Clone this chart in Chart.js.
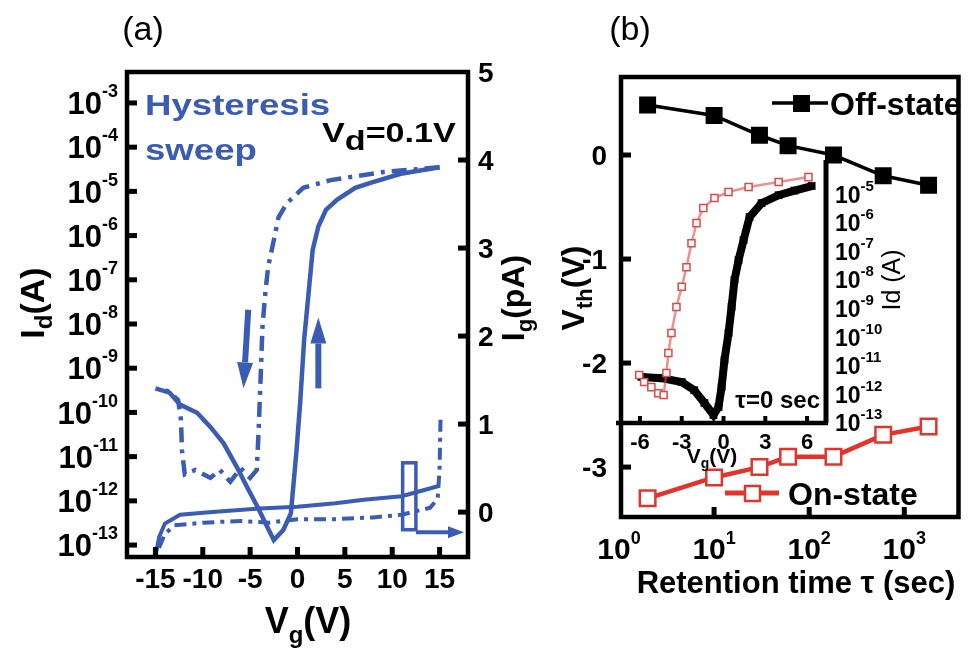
<!DOCTYPE html>
<html>
<head>
<meta charset="utf-8">
<script src="https://cdn.jsdelivr.net/npm/chart.js@4.4.1/dist/chart.umd.min.js"></script>
<style>
html, body { margin: 0; padding: 0; background: #fff; }
#wrap { position: relative; width: 972px; height: 648px; }
canvas { position: absolute; left: 0; top: 0; }
</style>
</head>
<body>
<div id="wrap">
  <canvas id="chartA" width="972" height="648"></canvas>
  <canvas id="chartB" width="972" height="648"></canvas>
  <canvas id="chartC" width="972" height="648"></canvas>
</div>
<script>
// ---------- panel (a): hysteresis sweep ----------
// forward sweep (solid), Id in A
const vgFwd = [-15, -13.5, -12.4, -10.6, -9.2, -7.8, -6.4, -5.3, -4.2, -3.2, -2.5, -1.5, -0.7, -0.1, 0.3, 0.7, 1.1, 1.6, 2.2, 3.0, 4.2, 6.1, 7.7, 10.9, 15];
const idFwd = [3.5e-10, 2.8e-10, 1.5e-10, 9.8e-11, 4.7e-11, 2.0e-11, 5.8e-12, 2.0e-12, 7.2e-13, 2.6e-13, 1.3e-13, 2.2e-13, 5.2e-13, 1.4e-11, 1.9e-10, 4.4e-9, 3.5e-8, 4.7e-7, 1.6e-6, 3.8e-6, 6.5e-6, 1.2e-5, 1.55e-5, 2.5e-5, 3.5e-5];
// reverse sweep (dash-dot)
const vgRev = [15, 9.1, 3.5, 0.6, -1.1, -2.0, -2.5, -3.1, -3.4, -3.7, -3.9, -4.1, -4.3, -5.0, -6.0, -7.1, -8.2, -9.2, -10.8, -11.9, -12.2, -12.3, -12.6, -13.5, -14.5];
const idRev = [3.5e-5, 2.75e-5, 1.8e-5, 1.2e-5, 5.5e-6, 2.6e-6, 7.9e-7, 1.95e-7, 5.0e-8, 8.5e-9, 5.4e-10, 4.0e-11, 5.0e-12, 3.3e-12, 5.5e-12, 2.7e-12, 5.0e-12, 3.3e-12, 5.0e-12, 4.0e-12, 1.4e-11, 6.8e-11, 1.9e-10, 2.9e-10, 3.5e-10];
// gate current Ig in pA (right axis)
const vgIgFwd = [-15, -14.6, -14, -12.4, -9, -4, 0, 4, 7, 11, 13, 15];
const igFwd = [-0.5, -0.28, -0.13, -0.03, 0.0, 0.04, 0.06, 0.1, 0.14, 0.18, 0.24, 0.3];
const vgIgRev = [15.1, 15, 14.8, 14, 11, 8, 4, 0, -3, -6, -10, -13, -14, -14.8];
const igRev = [1.05, 0.5, 0.15, 0.05, -0.03, -0.06, -0.08, -0.08, -0.12, -0.1, -0.12, -0.15, -0.25, -0.45];
// sweep direction arrows and the Ig marker (data units)
const arrowRev = { x: [-5.2, -5.7], y: [2.1e-8, 3.5e-10] };
const arrowFwd = { x: [2.2, 2.2], y: [3.5e-10, 1.4e-8] };
const igBox = { x: [11.1, 12.5], y: [-0.2, 0.56] };
const igPointer = { x: [12.5, 18], y: [-0.23, -0.23] };
// ticks
const idTickExp = [-3, -4, -5, -6, -7, -8, -9, -10, -11, -12, -13];
const igTicks = [0, 1, 2, 3, 4, 5];
const vgTicks = [-15, -10, -5, 0, 5, 10, 15];

// ---------- panel (b): retention ----------
const tau = [2, 10, 30, 60, 180, 600, 1800];
const vthOff = [0.48, 0.38, 0.19, 0.09, 0.0, -0.2, -0.29];
const vthOn = [-3.30, -3.10, -3.0, -2.9, -2.9, -2.69, -2.61];
const vthTicks = [0, -1, -2, -3];
const tauTickExp = [0, 1, 2, 3];

// inset: transfer curves at tau = 0 sec
const insetVgOff = [-5.9, -4.46, -3.0, -2.1, -1.37, -0.72, -0.36, -0.14, 0.07, 0.36, 0.58, 0.79, 1.08, 1.44, 1.87, 2.73, 3.96, 5.1, 6.33];
const insetIdOff = [4.1e-12, 3.7e-12, 2.7e-12, 1.4e-12, 5.0e-13, 1.9e-13, 3.6e-13, 1.8e-12, 1.6e-11, 1.4e-10, 1.15e-9, 1.0e-8, 5.0e-8, 2.5e-7, 1.6e-6, 4.9e-6, 9.3e-6, 1.35e-5, 1.95e-5];
const insetVgOn = [-6.05, -5.7, -5.18, -4.68, -4.3, -4.1, -3.96, -3.74, -3.38, -3.0, -2.66, -2.3, -1.94, -1.45, -0.65, 0.36, 1.8, 3.96, 6.1];
const insetIdOn = [4.8e-12, 2.7e-12, 1.8e-12, 1.1e-12, 9.5e-13, 5.6e-12, 2.8e-11, 1.4e-10, 1.15e-9, 5.8e-9, 2.8e-8, 1.95e-7, 9.8e-7, 3.3e-6, 7.4e-6, 1.2e-5, 1.8e-5, 2.7e-5, 4.0e-5];
const insetVgTicks = [-6, -3, 0, 3, 6];
const insetIdTickExp = [-5, -6, -7, -8, -9, -10, -11, -12, -13];

// ---------- helpers ----------
const FAM = '"Liberation Sans", Arial, sans-serif';
const blue = '#3a5cb5';
const red = '#e3342c';
function font(size, bold) { return (bold ? 'bold ' : '') + size + 'px ' + FAM; }
function pts(xs, ys) { return xs.map((v, i) => ({ x: v, y: ys[i] })); }
const hidden = { ticks: { display: false }, grid: { display: false }, border: { display: false } };

// parts: [text, size, dy]
function rich(ctx, parts, x, y, align, bold, color, sx) {
  sx = sx || 1;
  let w = 0;
  const ws = parts.map(p => { ctx.font = font(p[1], bold); const m = ctx.measureText(p[0]).width; w += m; return m; });
  ctx.save();
  ctx.translate(x, y);
  ctx.scale(sx, 1);
  let cx = align === 'center' ? -w / 2 : align === 'right' ? -w : 0;
  ctx.fillStyle = color; ctx.textAlign = 'left'; ctx.textBaseline = 'alphabetic';
  parts.forEach((p, i) => { ctx.font = font(p[1], bold); ctx.fillText(p[0], cx, p[2] || 0); cx += ws[i]; });
  ctx.restore();
}
function richRot(ctx, parts, x, y, bold, color) {
  ctx.save(); ctx.translate(x, y); ctx.rotate(-Math.PI / 2);
  rich(ctx, parts, 0, 0, 'center', bold, color);
  ctx.restore();
}
function pow10(ctx, e, x, ymid, align, size, supSize, supDy) {
  rich(ctx, [['10', size, 0], [String(e), supSize, supDy]], x, ymid + size * 0.36, align, true, '#000');
}
function plain(ctx, s, x, y, size, bold, align, color) {
  ctx.font = font(size, bold); ctx.fillStyle = color || '#000';
  ctx.textAlign = align || 'left'; ctx.textBaseline = 'alphabetic';
  ctx.fillText(s, x, y);
}
function arrow(ctx, x0, y0, x1, y1, lw, headLen, headHalf) {
  const ang = Math.atan2(y1 - y0, x1 - x0);
  const bx = x1 - headLen * Math.cos(ang), by = y1 - headLen * Math.sin(ang);
  ctx.lineWidth = lw;
  ctx.beginPath(); ctx.moveTo(x0, y0); ctx.lineTo(bx, by); ctx.stroke();
  ctx.beginPath(); ctx.moveTo(x1, y1);
  ctx.lineTo(bx + headHalf * Math.sin(ang), by - headHalf * Math.cos(ang));
  ctx.lineTo(bx - headHalf * Math.sin(ang), by + headHalf * Math.cos(ang));
  ctx.closePath(); ctx.fill();
}
function line(ctx, x0, y0, x1, y1, lw, color) {
  ctx.strokeStyle = color || '#000'; ctx.lineWidth = lw;
  ctx.beginPath(); ctx.moveTo(x0, y0); ctx.lineTo(x1, y1); ctx.stroke();
}

// ---------- panel (a) ----------
const decoA = {
  id: 'decoA',
  afterDraw(chart) {
    const { ctx, chartArea: a } = chart;
    const sx = chart.scales.x, yl = chart.scales.yL, yr = chart.scales.yR;
    ctx.save();
    // arrows
    ctx.fillStyle = blue; ctx.strokeStyle = blue;
    arrow(ctx, sx.getPixelForValue(arrowRev.x[0]), yl.getPixelForValue(arrowRev.y[0]),
      sx.getPixelForValue(arrowRev.x[1]), yl.getPixelForValue(arrowRev.y[1]), 6, 26, 8);
    arrow(ctx, sx.getPixelForValue(arrowFwd.x[0]), yl.getPixelForValue(arrowFwd.y[0]),
      sx.getPixelForValue(arrowFwd.x[1]), yl.getPixelForValue(arrowFwd.y[1]), 6, 26, 8);
    // Ig marker box and pointer
    const bx0 = sx.getPixelForValue(igBox.x[0]), bx1 = sx.getPixelForValue(igBox.x[1]);
    const by0 = yr.getPixelForValue(igBox.y[1]), by1 = yr.getPixelForValue(igBox.y[0]);
    ctx.lineWidth = 3.5; ctx.strokeRect(bx0, by0, bx1 - bx0, by1 - by0);
    arrow(ctx, sx.getPixelForValue(igPointer.x[0]), yr.getPixelForValue(igPointer.y[0]),
      sx.getPixelForValue(igPointer.x[1]) - 4, yr.getPixelForValue(igPointer.y[1]), 4, 16, 6);
    // frame
    ctx.strokeStyle = '#000'; ctx.lineWidth = 4.5;
    ctx.strokeRect(a.left, a.top, a.right - a.left, a.bottom - a.top);
    // ticks + labels
    idTickExp.forEach(e => {
      const y = yl.getPixelForValue(Math.pow(10, e));
      line(ctx, a.left, y, a.left + 10, y, 5);
      pow10(ctx, e, 118, y, 'right', 31, 18, -17);
    });
    igTicks.forEach(v => {
      const y = yr.getPixelForValue(v);
      if (v < 5) line(ctx, a.right - 10, y, a.right, y, 5);
      plain(ctx, String(v), 478, y + 10, 28, true);
    });
    vgTicks.forEach(v => {
      const x = sx.getPixelForValue(v);
      line(ctx, x, a.bottom, x, a.bottom - 10, 5);
      plain(ctx, String(v), x, 588, 28, true, 'center');
    });
    // titles
    richRot(ctx, [['I', 34], ['d', 24, 8], ['(A)', 34]], 44, 303, true, '#000');
    richRot(ctx, [['I', 32], ['g', 22, 8], ['(pA)', 32]], 524, 298, true, '#000');
    rich(ctx, [['V', 36], ['g', 24, 10], ['(V)', 36]], 308, 633, 'center', true, '#000');
    rich(ctx, [['Hysteresis', 30]], 145, 115, 'left', true, blue, 1.22);
    rich(ctx, [['sweep', 30]], 145, 160, 'left', true, blue, 1.22);
    rich(ctx, [['V', 28], ['d', 28, 8], ['=0.1V', 28]], 322, 142, 'left', true, '#000', 1.22);
    plain(ctx, '(a)', 143, 40, 34, false, 'center');
    ctx.restore();
  }
};

new Chart(document.getElementById('chartA'), {
  type: 'scatter',
  data: {
    datasets: [
      { data: pts(vgFwd, idFwd), yAxisID: 'yL', showLine: true, borderColor: blue, borderWidth: 4.5, pointRadius: 0 },
      { data: pts(vgRev, idRev), yAxisID: 'yL', showLine: true, borderColor: blue, borderWidth: 4.5, borderDash: [15, 7, 4, 7], pointRadius: 0 },
      { data: pts(vgIgFwd, igFwd), yAxisID: 'yR', showLine: true, borderColor: blue, borderWidth: 4, pointRadius: 0 },
      { data: pts(vgIgRev, igRev), yAxisID: 'yR', showLine: true, borderColor: blue, borderWidth: 4, borderDash: [12, 6, 4, 6], pointRadius: 0 }
    ]
  },
  options: {
    responsive: false, animation: false, devicePixelRatio: 1, events: [],
    layout: { padding: { top: 72, left: 0, right: 0, bottom: 0 } },
    plugins: { legend: { display: false }, tooltip: { enabled: false } },
    scales: {
      x: { type: 'linear', position: 'bottom', min: -18, max: 18, ...hidden, afterFit: s => { s.height = 91; } },
      yL: { type: 'logarithmic', position: 'left', min: Math.pow(10, -13.27), max: Math.pow(10, -2.3), ...hidden, afterFit: s => { s.width = 127; } },
      yR: { type: 'linear', position: 'right', min: -0.51, max: 5, ...hidden, afterFit: s => { s.width = 504; } }
    }
  },
  plugins: [decoA]
});

// ---------- panel (b) ----------
const decoB = {
  id: 'decoB',
  afterDraw(chart) {
    const { ctx, chartArea: a } = chart;
    const sx = chart.scales.x, sy = chart.scales.y;
    ctx.save();
    ctx.strokeStyle = '#000'; ctx.lineWidth = 4.5;
    ctx.strokeRect(a.left, a.top, a.right - a.left, a.bottom - a.top);
    vthTicks.forEach(v => {
      const y = sy.getPixelForValue(v);
      line(ctx, a.left, y, a.left + 10, y, 5);
      plain(ctx, String(v), 607, y + 10, 28, true, 'right');
    });
    tauTickExp.forEach(e => {
      const x = sx.getPixelForValue(Math.pow(10, e));
      if (e > 0) line(ctx, x, a.bottom, x, a.bottom - 10, 5);
      pow10(ctx, e, x, 548, 'center', 30, 18, -15);
    });
    // legend
    line(ctx, 772, 103, 828, 103, 3.5, '#000');
    ctx.fillStyle = '#000'; ctx.fillRect(793, 95, 17, 17);
    plain(ctx, 'Off-state', 830, 115, 32, true);
    line(ctx, 725, 493, 779, 493, 5, red);
    ctx.fillStyle = '#fff'; ctx.fillRect(745, 486, 15, 15);
    ctx.strokeStyle = red; ctx.lineWidth = 2.5; ctx.strokeRect(745, 486, 15, 15);
    plain(ctx, 'On-state', 788, 505, 32, true);
    // titles
    richRot(ctx, [['V', 32], ['th', 22, 8], ['(V)', 32]], 584, 288, true, '#000');
    plain(ctx, 'Retention time \u03c4 (sec)', 796, 593, 31, true, 'center');
    plain(ctx, '(b)', 630, 40, 34, false, 'center');
    ctx.restore();
  }
};

new Chart(document.getElementById('chartB'), {
  type: 'scatter',
  data: {
    datasets: [
      { data: pts(tau, vthOff), showLine: true, borderColor: '#000', borderWidth: 3.5, pointStyle: 'rect', pointRadius: 12, pointBackgroundColor: '#000', pointBorderColor: '#000', pointBorderWidth: 0 },
      { data: pts(tau, vthOn), showLine: true, borderColor: red, borderWidth: 4.5, pointStyle: 'rect', pointRadius: 11, pointBackgroundColor: '#fff', pointBorderColor: red, pointBorderWidth: 2.5 }
    ]
  },
  options: {
    responsive: false, animation: false, devicePixelRatio: 1, events: [],
    layout: { padding: { top: 77, left: 0, right: 3, bottom: 0 } },
    plugins: { legend: { display: false }, tooltip: { enabled: false } },
    scales: {
      x: { type: 'logarithmic', position: 'bottom', min: 1.05, max: 3715, ...hidden, afterFit: s => { s.height = 131; } },
      y: { type: 'linear', position: 'left', min: -3.48, max: 0.75, ...hidden, afterFit: s => { s.width = 621; } }
    }
  },
  plugins: [decoB]
});

// ---------- inset ----------
const decoC = {
  id: 'decoC',
  afterDraw(chart) {
    const { ctx, chartArea: a } = chart;
    const sx = chart.scales.x, sy = chart.scales.y;
    ctx.save();
    line(ctx, a.left - 6, a.bottom, a.right + 2, a.bottom, 4.5);
    line(ctx, a.right, a.top, a.right, a.bottom, 5);
    insetVgTicks.forEach(v => {
      const x = sx.getPixelForValue(v);
      line(ctx, x, a.bottom, x, a.bottom - 7, 4);
      plain(ctx, String(v), x, 449, 22, true, 'center');
    });
    insetIdTickExp.forEach(e => {
      const y = sy.getPixelForValue(Math.pow(10, e));
      pow10(ctx, e, 835, y, 'left', 23, 15, -12);
    });
    rich(ctx, [['V', 21], ['g', 14, 5], ['(V)', 21]], 712, 463, 'center', true, '#000');
    richRot(ctx, [['I', 25], ['d', 25], [' (A)', 25]], 900, 280, false, '#000');
    plain(ctx, '\u03c4=0 sec', 820, 408, 24, true, 'right');
    ctx.restore();
  }
};

new Chart(document.getElementById('chartC'), {
  type: 'scatter',
  data: {
    datasets: [
      { data: pts(insetVgOn, insetIdOn), showLine: true, borderColor: 'rgba(224,72,72,0.6)', borderWidth: 2.5, pointStyle: 'rect', pointRadius: 5, pointBackgroundColor: '#fff', pointBorderColor: '#e04848', pointBorderWidth: 1.5 },
      { data: pts(insetVgOff, insetIdOff), showLine: true, borderColor: '#000', borderWidth: 8, pointStyle: 'rect', pointRadius: 5.5, pointBackgroundColor: '#000', pointBorderColor: '#000', pointBorderWidth: 0 }
    ]
  },
  options: {
    responsive: false, animation: false, devicePixelRatio: 1, events: [],
    layout: { padding: { top: 160, left: 622, right: 0, bottom: 0 } },
    plugins: { legend: { display: false }, tooltip: { enabled: false } },
    scales: {
      x: { type: 'linear', position: 'bottom', min: -7.29, max: 7.36, ...hidden, afterFit: s => { s.height = 225; } },
      y: { type: 'logarithmic', position: 'right', min: 1e-13, max: Math.pow(10, -3.8), ...hidden, afterFit: s => { s.width = 146; } }
    }
  },
  plugins: [decoC]
});
</script>
</body>
</html>
